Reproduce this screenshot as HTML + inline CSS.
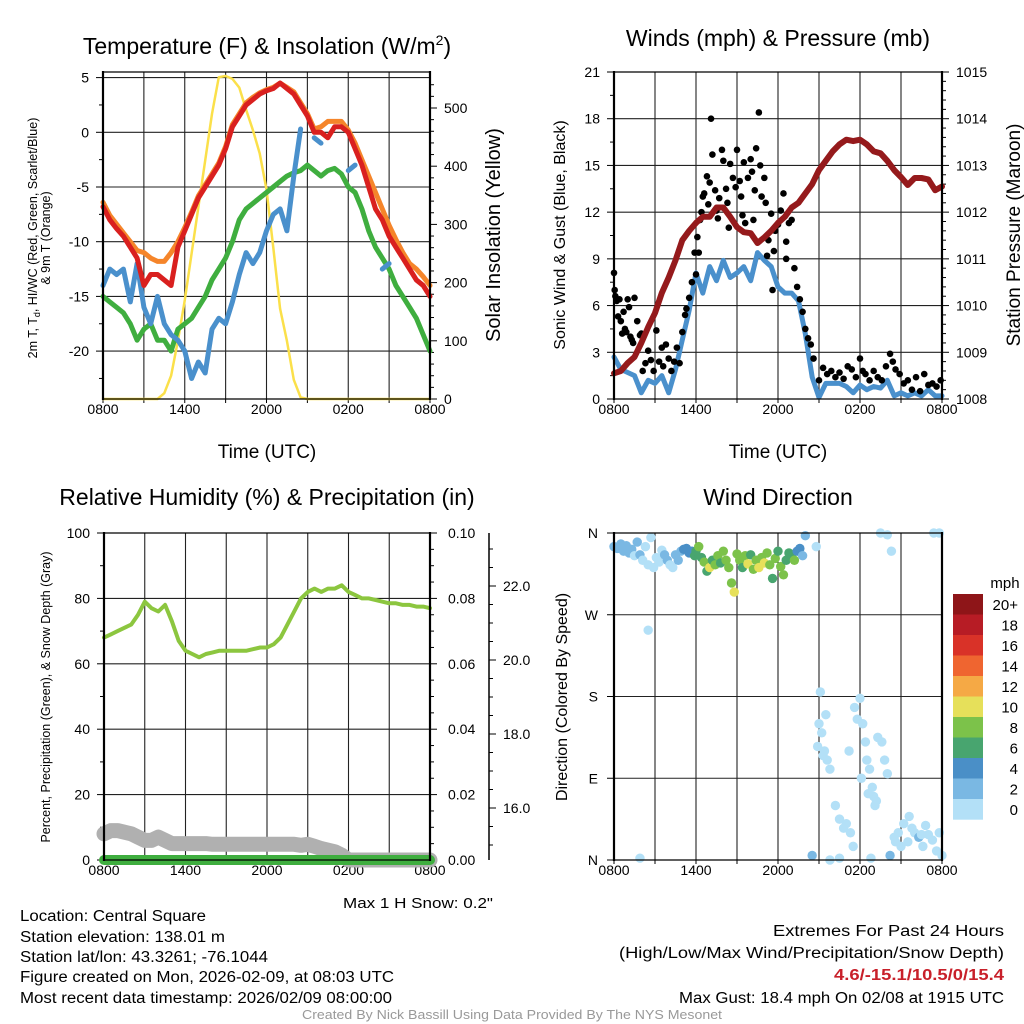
<!DOCTYPE html>
<html><head><meta charset="utf-8"><style>
html,body{margin:0;padding:0;background:#fff;}
svg{display:block;font-family:"Liberation Sans",Arial,sans-serif;}
.tk{font-size:14px;fill:#000;}
.nar{font-family:"Liberation Sans Narrow","Liberation Sans",sans-serif;}
</style></head><body>
<svg id="chart" width="1024" height="1024" viewBox="0 0 1024 1024" xmlns="http://www.w3.org/2000/svg">
<text x="267" y="54" font-size="23" text-anchor="middle">Temperature (F) &amp; Insolation (W/m<tspan dy="-9" font-size="14">2</tspan><tspan dy="9">)</tspan></text>
<text x="778" y="46" font-size="23" text-anchor="middle">Winds (mph) &amp; Pressure (mb)</text>
<text x="267" y="505" font-size="23" text-anchor="middle">Relative Humidity (%) &amp; Precipitation (in)</text>
<text x="778" y="505" font-size="23" text-anchor="middle">Wind Direction</text>
<text transform="translate(37,238) rotate(-90)" font-size="12.5" text-anchor="middle">2m T, T<tspan font-size="9" dy="3">d</tspan><tspan dy="-3">, HI/WC (Red, Green, Scarlet/Blue)</tspan></text>
<text transform="translate(50,238) rotate(-90)" font-size="12.5" text-anchor="middle">&amp; 9m T (Orange)</text>
<text transform="translate(500,235) rotate(-90)" font-size="20" text-anchor="middle">Solar Insolation (Yellow)</text>
<text transform="translate(565,235) rotate(-90)" font-size="16" text-anchor="middle">Sonic Wind &amp; Gust (Blue, Black)</text>
<text transform="translate(1020,235) rotate(-90)" font-size="19" text-anchor="middle">Station Pressure (Maroon)</text>
<text transform="translate(50,697) rotate(-90)" font-size="12.5" text-anchor="middle">Percent, Precipitation (Green), &amp; Snow Depth (Gray)</text>
<text transform="translate(567,697) rotate(-90)" font-size="16" text-anchor="middle">Direction (Colored By Speed)</text>
<text x="267" y="458" font-size="19" text-anchor="middle">Time (UTC)</text>
<text x="778" y="458" font-size="19" text-anchor="middle">Time (UTC)</text>
<text class="nar" x="493" y="908" font-size="15" text-anchor="end" textLength="150" lengthAdjust="spacingAndGlyphs">Max 1 H Snow: 0.2"</text>
<g class="nar" font-size="15.5">
<text x="20" y="921" textLength="186" lengthAdjust="spacingAndGlyphs">Location: Central Square</text>
<text x="20" y="942" textLength="205" lengthAdjust="spacingAndGlyphs">Station elevation: 138.01 m</text>
<text x="20" y="962" textLength="248" lengthAdjust="spacingAndGlyphs">Station lat/lon: 43.3261; -76.1044</text>
<text x="20" y="982" textLength="374" lengthAdjust="spacingAndGlyphs">Figure created on Mon, 2026-02-09, at 08:03 UTC</text>
<text x="20" y="1003" textLength="372" lengthAdjust="spacingAndGlyphs">Most recent data timestamp: 2026/02/09 08:00:00</text>
</g>
<g class="nar" font-size="15.5" text-anchor="end">
<text x="1004" y="936" textLength="231" lengthAdjust="spacingAndGlyphs">Extremes For Past 24 Hours</text>
<text x="1004" y="958" textLength="385" lengthAdjust="spacingAndGlyphs">(High/Low/Max Wind/Precipitation/Snow Depth)</text>
<text x="1004" y="980" font-weight="bold" fill="#c8202a" textLength="170" lengthAdjust="spacingAndGlyphs">4.6/-15.1/10.5/0/15.4</text>
<text x="1004" y="1003" textLength="325" lengthAdjust="spacingAndGlyphs">Max Gust: 18.4 mph On 02/08 at 1915 UTC</text>
</g>
<text class="nar" x="512" y="1019" font-size="12.5" fill="#999" text-anchor="middle" textLength="420" lengthAdjust="spacingAndGlyphs">Created By Nick Bassill Using Data Provided By The NYS Mesonet</text>
</svg>
<script>
// ---------- data (half-hourly from 0800 UTC, 49 points) ----------
const xTickLabels = ["0800","1400","2000","0200","0800"];
const tempRed = [-6.8,-8,-8.8,-9.5,-10.5,-11.5,-14,-13,-13,-13.5,-14,-10.5,-9,-7.5,-6,-5,-4,-3,-1.5,0.5,1.5,2.5,3,3.5,3.8,4,4.5,4,3.5,2.5,1.5,0,0,-0.5,0.5,0.5,0,-1.5,-3,-5,-7,-8,-9.5,-10.5,-11.5,-12.5,-13.5,-14,-15];
const tempOrange = [-6.4,-7.6,-8.4,-9.2,-10,-10.8,-11,-11.5,-11.8,-11.8,-11,-10,-8.7,-7.3,-5.8,-4.8,-3.8,-2.8,-1.3,0.7,1.7,2.7,3.2,3.6,3.9,4.1,4.5,4.1,3.7,2.7,1.7,0.3,0.5,1,1,1,0.2,-1,-2.5,-4,-5.5,-7,-8.5,-9.8,-11,-12,-12.5,-13.2,-14];
const tempGreen = [-15,-15.5,-16,-16.5,-17.5,-19,-18,-17.5,-19,-19,-20,-18,-17.5,-17,-16,-15,-13.5,-12.5,-11.5,-10,-8,-7,-6.5,-6,-5.5,-5,-4.5,-4,-3.7,-3.5,-3,-3.5,-4,-3.5,-3.3,-3.8,-5,-5.5,-7,-9,-10.5,-11.5,-12.5,-14,-15,-16,-17,-18.5,-20];
const windChill = [-14,-12.5,-13,-12.5,-15.5,-12,-16,-17.5,-15,-17.5,-18.5,-19,-20,-22.5,-21,-22,-18,-17,-17.5,-15.5,-13,-11,-12,-11,-9,-7.5,-7,-9,-4,0.3,null,-0.5,-1,null,null,null,-3.5,-3,null,null,null,-12.5,-12,null,null,null,null,null,null];
const insolation = [0,0,0,0,0,0,0,0,0,10,40,100,170,250,330,410,490,553,555,550,535,497,462,422,360,260,155,100,33,3,0,0,0,0,0,0,0,0,0,0,0,0,0,0,0,0,0,0,0];
const windSpeed = [2.7,1.9,1.7,1.5,0.4,1.2,1.0,1.5,0.4,1.9,3.8,5.7,8.1,6.8,8.5,7.6,8.9,7.8,8.1,8.5,7.6,9.4,8.9,8.5,7.2,6.8,6.8,6.3,4.2,1.4,0.1,1.0,1.0,1.0,0.8,0.4,0.9,0.6,0.8,0.7,1.2,0.2,0.4,0.2,0.4,0.2,0.6,0.2,0.2];
const pressure = [1008.55,1008.6,1008.77,1008.9,1009.2,1009.54,1009.84,1010.27,1010.6,1010.97,1011.4,1011.6,1011.77,1011.9,1011.9,1012.1,1012.1,1011.9,1011.68,1011.57,1011.55,1011.34,1011.46,1011.6,1011.77,1011.9,1012.1,1012.2,1012.4,1012.6,1012.9,1013.1,1013.3,1013.45,1013.55,1013.52,1013.55,1013.45,1013.3,1013.26,1013.1,1012.9,1012.75,1012.58,1012.73,1012.73,1012.7,1012.47,1012.55];
const gustHour = [0,0.05,0.1,0.2,0.3,0.4,0.5,0.6,0.7,0.8,0.9,1,1.1,1.2,1.3,1.4,1.5,1.7,1.9,2,2.1,2.3,2.5,2.7,2.9,3.1,3.3,3.5,3.6,3.8,4,4.2,4.4,4.6,4.8,5,5.2,5.3,5.5,5.7,5.9,6.0,6.1,6.2,6.3,6.4,6.5,6.6,6.8,6.9,7.0,7.1,7.2,7.4,7.5,7.6,7.7,7.9,8.0,8.2,8.3,8.4,8.5,8.7,8.9,9.0,9.2,9.3,9.4,9.5,9.6,9.8,10.0,10.1,10.2,10.3,10.4,10.6,10.7,10.8,11.0,11.1,11.2,11.3,11.5,11.6,11.7,11.8,12.0,12.2,12.4,12.6,12.6,12.8,13.0,13.2,13.4,13.6,13.8,14,14.2,14.4,14.6,15,15.3,15.6,15.9,16.2,16.5,16.8,17.1,17.4,17.7,18.0,18.2,18.4,18.7,19,19.3,19.6,19.9,20.2,20.4,20.6,20.9,21.2,21.5,21.8,22.1,22.4,22.7,23.0,23.3,23.6,23.9];
const gustSpeed = [8.1,7,6.6,6.3,5.3,6.4,5,4.2,5.6,4.5,4.3,6.4,5.9,4,3.8,3.6,6.5,5,4.1,4.2,1.8,2.3,3.1,2.5,1.8,4.4,2.4,3.3,2.1,3.5,2.6,1.8,2.4,3.3,2.3,4.3,5.4,5.8,6.5,7.5,9.4,8.0,10.4,9.4,11.5,12,13.0,13.2,14.3,12.5,13.9,18.0,15.7,13.4,12.1,11.6,12.9,16.0,15.3,13.5,12.6,11.0,15.1,14.2,13.6,16.0,14.0,13.0,11.8,15.2,11.3,14.2,15.4,14.6,11.5,13.4,16.1,18.4,15.0,13.0,14.2,12.6,9.2,10.2,11.9,7.0,9.5,10.8,11.2,12.1,13.2,10.1,9.0,11.3,11.5,8.4,7.2,6.4,5.6,4.5,3.9,3.5,2.6,1.2,2.0,1.6,1.8,1.4,1.7,1.3,2.1,1.9,1.4,2.6,1.8,1.6,1.2,1.8,1.4,1.2,2.1,2.9,2.4,1.9,1.6,1.0,1.2,0.6,1.4,0.5,1.6,0.9,1.0,0.8,1.2];
const relHumidity = [68,69,70,71,72,75,79,77,76,78,73,67,64,63,62,63,63.5,64,64,64,64,64,64.5,65,65,66,68,72,76,80,82,83,82,83,83,84,82,81,80,80,79.5,79,78.5,78.5,78,78,77.5,77.5,77];
const precip = [0,0,0,0,0,0,0,0,0,0,0,0,0,0,0,0,0,0,0,0,0,0,0,0,0,0,0,0,0,0,0,0,0,0,0,0,0,0,0,0,0,0,0,0,0,0,0,0,0];
const snowDepth = [8,9,9,8.5,8,7,6,6,7,6,5,5,5,5,5,5,4.8,4.8,4.8,4.8,4.8,4.8,4.8,4.8,4.8,4.8,4.8,4.8,4.8,4.5,4.8,4.2,3.5,3,2.5,1.5,0,0,0,0,0,0,0,0,0,0,0,0,0];
const dirHour = [0,0.25,0.5,0.7,0.9,1.1,1.3,1.5,1.7,1.9,2.1,2.3,2.5,2.5,2.7,2.9,3.1,3.3,3.5,3.7,3.9,4.1,4.3,4.5,4.7,4.9,5.1,5.3,5.5,5.7,5.9,6.0,6.2,6.4,6.6,6.8,7.0,7.2,7.4,7.6,7.8,8.0,8.2,8.4,8.6,8.8,9.0,9.2,9.4,9.6,9.8,10.0,10.2,10.4,10.6,10.8,11.0,11.2,11.4,11.6,11.8,12.0,12.2,12.4,12.6,12.8,13.0,13.2,13.4,13.6,13.8,14.0,14.5,15.1,15.0,15.2,15.4,15.6,15.8,14.9,15.3,16.2,16.5,16.8,17.0,17.3,17.5,17.6,17.8,18.0,18.2,18.4,18.5,18.7,18.9,19.0,19.2,19.3,19.6,19.8,20.0,18.6,20.2,20.5,20.8,21.0,21.2,21.5,21.8,21.6,22.0,22.3,22.6,22.8,23.0,23.3,23.6,23.8,24,19.5,20.0,23.4,23.8,20.3,15.8,16.5,18.8,1.9,14.8,15.5,17.2,18.1,19.1,20.6,22.5];
const dirDeg = [345,343,348,340,346,338,342,335,350,336,330,345,325,253,355,322,333,328,341,336,330,325,322,336,330,340,342,343,338,340,335,340,345,333,328,318,322,330,325,335,327,340,330,322,305,295,337,330,322,335,326,336,320,330,322,333,327,338,325,310,332,340,323,314,330,338,336,330,340,343,335,357,5,185,150,140,120,110,100,125,115,60,45,35,40,30,15,168,155,178,150,130,110,100,80,70,65,135,130,110,95,73,5,25,30,15,40,20,35,48,30,25,15,38,28,22,10,30,5,360,358,360,360,340,0,2,2,2,345,160,120,90,60,20,28];
const dirSpeed = [2,2,3,2,2,2,3,1,3,2,1,1,1,1,1,0,1,0,1,2,2,1,0,3,2,3,4,4,4,4,6,6,8,6,8,6,10,6,8,8,6,8,8,8,8,10,8,8,6,8,10,6,8,8,10,8,10,8,8,6,8,6,8,8,6,6,6,8,4,4,3,3,2,0,0,0,0,0,0,0,0,0,0,0,0,0,0,0,0,0,0,0,0,0,0,0,0,0,0,0,0,0,2,0,0,0,0,0,0,0,0,3,0,0,0,0,0,0,0,0,0,0,0,0,0,0,0,0,0,0,1,0,0,0,0,0,0];
const legendLabels = ["20+","18","16","14","12","10","8","6","4","2","0"];
const legendColors = ["#8e1518","#b71c25","#d93228","#ef6530","#f5a945","#e6e05a","#7cc24a","#48a56f","#4a8fc7","#7ab8e3","#b3e0f7"];

const NS = "http://www.w3.org/2000/svg";
const svg = document.getElementById("chart");
function mk(tag, attrs, parent) {
  const e = document.createElementNS(NS, tag);
  for (const k in attrs) e.setAttribute(k, attrs[k]);
  (parent || svg).appendChild(e);
  return e;
}
function xScale(x0, x1) { return h => x0 + h / 24 * (x1 - x0); }
function linScale(v0, y0, v1, y1) { return v => y0 + (v - v0) / (v1 - v0) * (y1 - y0); }
function pathFrom(vals, xs, ys) {
  let d = "", pen = false;
  vals.forEach((v, i) => {
    if (v === null) { pen = false; return; }
    d += (pen ? "L" : "M") + xs(i * 0.5).toFixed(1) + "," + ys(v).toFixed(1);
    pen = true;
  });
  return d;
}
function colorFor(s) {
  let idx = 10 - Math.min(10, Math.floor(s / 2));
  return legendColors[idx];
}

function frame(x0, x1, y0, y1, name) {
  const g = mk("g", {});
  
  
  const xs = xScale(x0, x1);
  for (let h = 3; h < 24; h += 3) {
    const l = mk("line", {x1: xs(h), x2: xs(h), y1: y0, y2: y1, stroke: "#222", "stroke-width": 1.1}, g);
    
    
  }
  for (let h = 0; h <= 24; h += 3) {
    const t = mk("line", {x1: xs(h), x2: xs(h), y1: y1, y2: y1 + 4, stroke: "#000", "stroke-width": 1}, g);
    
    
  }
  xTickLabels.forEach((lab, i) => {
    const t = mk("text", {x: xs(i * 6), y: y1 + 15, class: "tk", "text-anchor": "middle"}, g);
    t.textContent = lab;
    
    
  });
  return xs;
}
function hgrid(x0, x1, y, g) {
  const l = mk("line", {x1: x0, x2: x1, y1: y, y2: y, stroke: "#222", "stroke-width": 1.1});
  
  
}
function ylab(x, y, txt, anchor, name) {
  const t = mk("text", {x: x, y: y + 5, class: "tk", "text-anchor": anchor});
  t.textContent = txt;
  
  
}
function tick(x, y, len) {
  const t = mk("line", {x1: x, x2: x + len, y1: y, y2: y, stroke: "#000", "stroke-width": 1});
  
  
}
function borders(x0, x1, y0, y1) {
  const a = mk("line", {x1: x0, x2: x0, y1: y0 - 1, y2: y1 + 1, stroke: "#000", "stroke-width": 2.2});
  
  
  const b = mk("line", {x1: x1, x2: x1, y1: y0 - 1, y2: y1 + 1, stroke: "#000", "stroke-width": 2.2});
  
  
  const c = mk("line", {x1: x0, x2: x1, y1: y0, y2: y0, stroke: "#000", "stroke-width": 1.2});
  
  
  const d = mk("line", {x1: x0, x2: x1, y1: y1, y2: y1, stroke: "#000", "stroke-width": 1.2});
  
  
}
function line(d, color, w, name) {
  const p = mk("path", {d: d, fill: "none", stroke: color, "stroke-width": w, "stroke-linejoin": "round", "stroke-linecap": "round"});
  
  
}

// ---------- Panel 1: temperature ----------
{
  const X0 = 103, X1 = 430, Y0 = 72, Y1 = 399;
  const xs = frame(X0, X1, Y0, Y1, "temperature");
  const ty = linScale(0, 132.3, 5, 77.6);
  const iy = linScale(0, 399, 100, 340.8);
  [5, 0, -5, -10, -15, -20].forEach(v => { hgrid(X0, X1, ty(v)); tick(X0 - 7, ty(v), 7); ylab(X0 - 14, ty(v), String(v), "end", "temperature-tick-label"); });
  for (let v = -22.5; v <= 5; v += 5) tick(X0 - 4, ty(v), 4);
  for (let v = 0; v <= 550; v += 20) tick(X1, iy(v), v % 100 === 0 ? 7 : 4);
  [0, 100, 200, 300, 400, 500].forEach(v => ylab(X1 + 14, iy(v), String(v), "start", "insolation-tick-label"));
  line(pathFrom(insolation, xs, iy), "#fbe04a", 2.5, "insolation-line");
  line(pathFrom(tempGreen, xs, ty), "#3fae3f", 5, "dewpoint-line");
  line(pathFrom(windChill, xs, ty), "#4a90cc", 5, "wind-chill-line");
  line(pathFrom(tempOrange, xs, ty), "#f5852a", 5, "temp-9m-line");
  line(pathFrom(tempRed, xs, ty), "#d9201f", 5, "temp-2m-line");
  borders(X0, X1, Y0, Y1);
}
// ---------- Panel 2: winds & pressure ----------
{
  const X0 = 614, X1 = 942, Y0 = 72, Y1 = 399;
  const xs = frame(X0, X1, Y0, Y1, "wind");
  const my = linScale(0, 399, 21, 72);
  const py = linScale(1008, 399, 1015, 72);
  for (let v = 0; v <= 21; v += 3) { if (v > 0 && v < 21) hgrid(X0, X1, my(v)); tick(X0 - 7, my(v), 7); ylab(X0 - 14, my(v), String(v), "end", "wind-tick-label"); }
  for (let v = 1.5; v < 21; v += 3) tick(X0 - 4, my(v), 4);
  for (let p = 1008; p <= 1015.001; p += 0.2) tick(X1, py(p), Math.abs(p - Math.round(p)) < 0.01 ? 7 : 4);
  for (let p = 1008; p <= 1015; p++) ylab(X1 + 14, py(p), String(p), "start", "pressure-tick-label");
  line(pathFrom(windSpeed, xs, my), "#4a90cc", 5, "wind-speed-line");
  gustHour.forEach((h, i) => {
    const c = mk("circle", {cx: xs(h), cy: my(gustSpeed[i]), r: 3.3, fill: "#000"});
    
    
  });
  line(pathFrom(pressure, xs, py), "#951a1c", 6, "pressure-line");
  borders(X0, X1, Y0, Y1);
}
// ---------- Panel 3: RH & precip ----------
{
  const X0 = 104, X1 = 430, Y0 = 533, Y1 = 860;
  const xs = frame(X0, X1, Y0, Y1, "humidity");
  const ry = linScale(0, 860, 100, 533);
  const qy = linScale(0, 860, 0.1, 533);
  [0, 20, 40, 60, 80, 100].forEach(v => { if (v > 0 && v < 100) hgrid(X0, X1, ry(v)); tick(X0 - 7, ry(v), 7); ylab(X0 - 14, ry(v), String(v), "end", "humidity-tick-label"); });
  for (let v = 10; v < 100; v += 20) tick(X0 - 4, ry(v), 4);
  for (let q = 0; q <= 0.1001; q += 0.005) tick(X1, qy(q), Math.abs(q * 50 - Math.round(q * 50)) < 0.01 ? 7 : 4);
  [0, 0.02, 0.04, 0.06, 0.08, 0.1].forEach(q => ylab(X1 + 18, qy(q), q.toFixed(2), "start", "precip-tick-label"));
  const sy = linScale(16, 808, 22, 586);
  const ax = mk("line", {x1: 489, x2: 489, y1: 533, y2: 860, stroke: "#000", "stroke-width": 1.5});
  
  
  for (let s = 14; s <= 23.2; s += 0.5) { const yy = sy(s); if (yy >= 533 && yy <= 860) tick(489, yy, Math.abs(s - Math.round(s / 2) * 2) < 0.01 ? 7 : 4); }
  [16, 18, 20, 22].forEach(s => ylab(503, sy(s), s.toFixed(1), "start", "snow-depth-tick-label"));
  line(pathFrom(relHumidity, xs, ry), "#8cc63f", 4, "humidity-line");
  line(pathFrom(snowDepth, xs, ry), "#b0b0b0", 15, "snow-depth-line");
  line(pathFrom(precip, xs, qy), "#3fae3f", 10, "precip-line");
  borders(X0, X1, Y0, Y1);
}
// ---------- Panel 4: wind direction ----------
{
  const X0 = 614, X1 = 942, Y0 = 533, Y1 = 860;
  const xs = frame(X0, X1, Y0, Y1, "direction");
  const dy = linScale(0, 860, 360, 533);
  [[360, "N"], [270, "W"], [180, "S"], [90, "E"], [0, "N"]].forEach(([v, l]) => { if (v > 0 && v < 360) hgrid(X0, X1, dy(v)); tick(X0 - 7, dy(v), 7); ylab(X0 - 16, dy(v), l, "end", "direction-tick-label"); });
  dirHour.forEach((h, i) => {
    const c = mk("circle", {cx: xs(h), cy: dy(dirDeg[i]), r: 4.7, fill: colorFor(dirSpeed[i])});
    
    
  });
  borders(X0, X1, Y0, Y1);
  const lg = mk("g", {});
  
  
  const t = mk("text", {x: 1005, y: 588, "font-size": 15, "text-anchor": "middle"}, lg);
  t.textContent = "mph";
  
  
  legendLabels.forEach((lab, i) => {
    const r = mk("rect", {x: 953, y: 594 + i * 20.5, width: 30, height: 20.7, fill: legendColors[i]}, lg);
    
    
    const tx = mk("text", {x: 1018, y: 610 + i * 20.5, "font-size": 15, "text-anchor": "end"}, lg);
    tx.textContent = lab;
    
    
  });
}
</script>
</body></html>
